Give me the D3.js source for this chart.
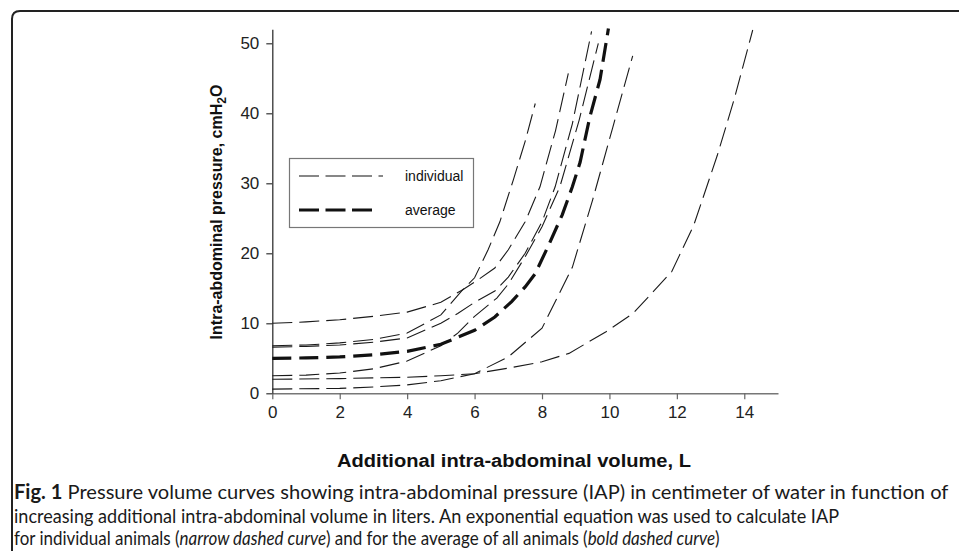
<!DOCTYPE html>
<html>
<head>
<meta charset="utf-8">
<script src="https://cdn.jsdelivr.net/npm/d3@7/dist/d3.min.js"></script>
<style>
body { margin: 0; background: #fff; }
svg { display: block; font-family: "Liberation Sans", Arial, sans-serif; }
.axis text { font-size: 17px; font-family: "Liberation Sans", Arial, sans-serif; fill: #222; }
</style>
</head>
<body>
<div class="chart"></div>
<script>
// pressure (cmH2O) against additional volume (L), one array per animal
var animal1 = [[0,10],[1,10.2],[2,10.5],[3,11],[4,11.6],[5,13],[5.65,14.8],[6.1,16.2],[6.6,17.9],[7,20.5],[7.5,24.5],[7.94,29.5],[8.4,37.5],[8.78,45.7]];
var animal2 = [[0,6.8],[1,6.9],[2,7.2],[3,7.7],[4,8.6],[5,11.2],[5.65,14.8],[6,16.5],[6.4,20.5],[6.75,24.5],[7.15,30.5],[7.5,36],[7.8,41.4]];
var animal3 = [[0,6.6],[1,6.7],[2,6.9],[3,7.3],[4,7.9],[5,10],[5.5,11.4],[6,13],[6.6,14.6],[7,16.6],[7.5,20],[8,24.5],[8.39,29.5],[8.9,38.5],[9.47,51.7]];
var animal4 = [[0,2.5],[1,2.6],[2,2.9],[3,3.5],[4,4.6],[5,6.8],[5.5,8.6],[6,11],[6.66,13.6],[7,15.6],[7.5,19.5],[8,23.8],[8.53,29.5],[9.1,39],[9.67,50]];
var animal5 = [[0,2],[2,2.1],[3,2.2],[4,2.3],[5,2.5],[6,2.8],[7,5.2],[8,9.3],[8.9,18],[9.5,27.6],[10.1,38],[10.69,48.2]];
var animal6 = [[0,0.6],[2,0.7],[3,0.9],[4,1.2],[5,1.8],[6,2.8],[7,3.6],[8,4.5],[8.8,5.7],[9.9,8.8],[10.7,11.4],[11.85,17.4],[12.5,24],[13.2,34],[13.7,42],[14.25,51.9]];
var average = [[0,5],[1,5.05],[2,5.2],[3,5.5],[4,6],[5,7],[6,9],[6.6,10.9],[7.1,13.1],[7.5,15.2],[7.8,17.1],[8.2,21.2],[8.6,25.5],[8.9,29.5],[9.13,33],[9.42,39.5],[9.72,44.8],[9.97,52.1]];
var individuals = [animal1, animal2, animal3, animal4, animal5, animal6];

var xTicks = [0, 2, 4, 6, 8, 10, 12, 14];
var yTicks = [0, 10, 20, 30, 40, 50];
var legendLabels = ["individual", "average"];

var xTitle = "Additional intra-abdominal volume, L";
var captionLine2 = "increasing additional intra-abdominal volume in liters. An exponential equation was used to calculate IAP";

var width = 959, height = 551;

var svg = d3.select(".chart").append("svg")
	.attr("width", width)
	.attr("height", height);

// cadre arrondi en haut a gauche
svg.append("path")
	.attr("d", "M12," + height + " V19 Q12,11 20,11 H" + width)
	.attr("fill", "none")
	.attr("stroke", "#222")
	.attr("stroke-width", 2);

var x = d3.scaleLinear().domain([0, 15]).range([272.3, 778]);
var y = d3.scaleLinear().domain([0, 52]).range([393.3, 29.3]);

// axes
var gx = svg.append("g")
	.attr("class", "axis")
	.attr("transform", "translate(0,393.3)")
	.call(d3.axisBottom(x).tickValues(xTicks).tickSize(6).tickSizeOuter(0).tickPadding(7));
gx.attr("font-size", null).attr("font-family", null);
gx.select(".domain").attr("stroke", "#777").attr("stroke-width", 1.4);
gx.selectAll(".tick line").attr("stroke", "#666").attr("stroke-width", 1.2);

var gy = svg.append("g")
	.attr("class", "axis")
	.attr("transform", "translate(272.3,0)")
	.call(d3.axisLeft(y).tickValues(yTicks).tickSize(6).tickSizeOuter(0).tickPadding(7));
gy.attr("font-size", null).attr("font-family", null);
gy.select(".domain").attr("stroke", "#333").attr("stroke-width", 1.3);
gy.selectAll(".tick line").attr("stroke", "#333").attr("stroke-width", 1.2);

// titres des axes
svg.append("text")
	.attr("x", 514).attr("y", 467)
	.attr("text-anchor", "middle")
	.attr("font-size", 18).attr("font-weight", "bold").attr("fill", "#111")
	.attr("textLength", 354).attr("lengthAdjust", "spacingAndGlyphs")
	.text(xTitle);

var yt = svg.append("text")
	.attr("transform", "translate(222,212) rotate(-90)")
	.attr("text-anchor", "middle")
	.attr("font-size", 16).attr("font-weight", "bold").attr("fill", "#111");
yt.append("tspan").text("Intra-abdominal pressure, cmH");
yt.append("tspan").attr("dy", 4).attr("font-size", 12).text("2");
yt.append("tspan").attr("dy", -4).text("O");

// courbes
var line = d3.line()
	.x(function (d) { return x(d[0]); })
	.y(function (d) { return y(d[1]); });

svg.selectAll(".individual")
	.data(individuals)
	.enter().append("path")
	.attr("class", "individual")
	.attr("d", line)
	.attr("fill", "none")
	.attr("stroke", "#1a1a1a")
	.attr("stroke-width", 1.1)
	.attr("stroke-dasharray", "20,7");

svg.append("path")
	.datum(average)
	.attr("class", "average")
	.attr("d", line)
	.attr("fill", "none")
	.attr("stroke", "#111")
	.attr("stroke-width", 3.2)
	.attr("stroke-dasharray", "19,8");

// legende
var legend = svg.append("g").attr("class", "legend");
legend.append("rect")
	.attr("x", 289.5).attr("y", 158.5)
	.attr("width", 184).attr("height", 69)
	.attr("fill", "#fff")
	.attr("stroke", "#777").attr("stroke-width", 1.2);

legend.selectAll(".legend-line")
	.data(legendLabels)
	.enter().append("line")
	.attr("x1", 299).attr("x2", function (d, i) { return i == 0 ? 383 : 376; })
	.attr("y1", function (d, i) { return 176 + i * 34; })
	.attr("y2", function (d, i) { return 176 + i * 34; })
	.attr("stroke", "#111")
	.attr("stroke-width", function (d, i) { return i == 0 ? 1.1 : 3.2; })
	.attr("stroke-dasharray", "20,6.5");

legend.selectAll(".legend-text")
	.data(legendLabels)
	.enter().append("text")
	.attr("x", 405)
	.attr("y", function (d, i) { return 181 + i * 34; })
	.attr("font-size", 14).attr("fill", "#111")
	.text(function (d) { return d; });

// legende de la figure : chaque ligne est etiree a la largeur voulue
var cap = svg.append("g")
	.attr("font-family", "Lato, 'Open Sans', sans-serif")
	.attr("font-size", 20)
	.attr("fill", "#1a1a1a");

function fitLine(t, baseline, targetWidth) {
	var w = t.node().getComputedTextLength();
	t.attr("transform", "translate(14," + baseline + ") scale(" + (targetWidth / w) + ",1)");
}

var c1 = cap.append("text");
c1.append("tspan").attr("font-weight", "bold").text("Fig. 1");
c1.append("tspan").text(" Pressure volume curves showing intra-abdominal pressure (IAP) in centimeter of water in function of");
fitLine(c1, 499, 935);

var c2 = cap.append("text").text(captionLine2);
fitLine(c2, 523, 826);

var c3 = cap.append("text");
c3.append("tspan").text("for individual animals (");
c3.append("tspan").attr("font-style", "italic").text("narrow dashed curve");
c3.append("tspan").text(") and for the average of all animals (");
c3.append("tspan").attr("font-style", "italic").text("bold dashed curve");
c3.append("tspan").text(")");
fitLine(c3, 545, 706);
</script>
</body>
</html>
